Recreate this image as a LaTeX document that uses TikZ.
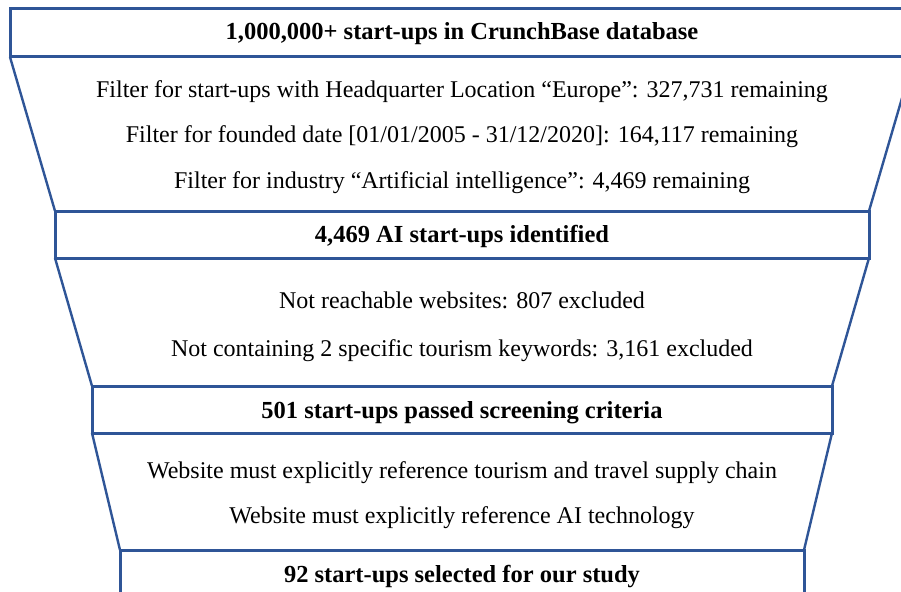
\documentclass[tikz,border=0pt]{standalone}
\usepackage{fontspec}
\setmainfont{Liberation Serif}
\definecolor{funnelblue}{HTML}{2F5597}
\begin{document}
\begin{tikzpicture}[x=1pt,y=-1pt,
  stagebox/.style={draw=funnelblue,line width=3pt},
  funnelside/.style={draw=funnelblue,line width=2.4pt},
  stagetext/.style={font=\fontsize{24.5}{27}\selectfont\bfseries,anchor=center,inner sep=0pt},
  filtertext/.style={font=\fontsize{24}{27}\selectfont,anchor=center,inner sep=0pt}]
\useasboundingbox (0,0) rectangle (901,591);
\clip (0,0) rectangle (901,591);
\fill[white] (0,0) rectangle (901,591);
% funnel sides between the stages
\draw[funnelside] (10,57) -- (55,211);
\draw[funnelside] (914,57) -- (869,211);
\draw[funnelside] (55,258) -- (92,386);
\draw[funnelside] (869,258) -- (832,386);
\draw[funnelside] (92,433) -- (120,550);
\draw[funnelside] (832,433) -- (804,550);
% stage boxes
\draw[stagebox] (10,9) rectangle (914,57);
\draw[stagebox] (55,211) rectangle (869,258);
\draw[stagebox] (92,386) rectangle (832,433);
\draw[stagebox] (120,550) rectangle (804,620);
% stage labels
\node[stagetext] (s1) at (462,34) {1,000,000+ start-ups in CrunchBase database};
\node[stagetext] (s2) at (462,236) {4,469 AI start-ups identified};
\node[stagetext] (s3) at (462,413) {501 start-ups passed screening criteria};
\node[stagetext] (s4) at (462,577) {92 start-ups selected for our study};
% filter steps
\node[filtertext] (f1) at (462,92) {Filter for start-ups with Headquarter Location “Europe”: 327,731 remaining};
\node[filtertext] (f2) at (462,137) {Filter for founded date [01/01/2005 - 31/12/2020]: 164,117 remaining};
\node[filtertext] (f3) at (462,183) {Filter for industry “Artificial intelligence”: 4,469 remaining};
\node[filtertext] (f4) at (462,300) {Not reachable websites: 807 excluded};
\node[filtertext] (f5) at (462,351) {Not containing 2 specific tourism keywords: 3,161 excluded};
\node[filtertext] (f6) at (462,473) {Website must explicitly reference tourism and travel supply chain};
\node[filtertext] (f7) at (462,518) {Website must explicitly reference AI technology};
\end{tikzpicture}
\end{document}
